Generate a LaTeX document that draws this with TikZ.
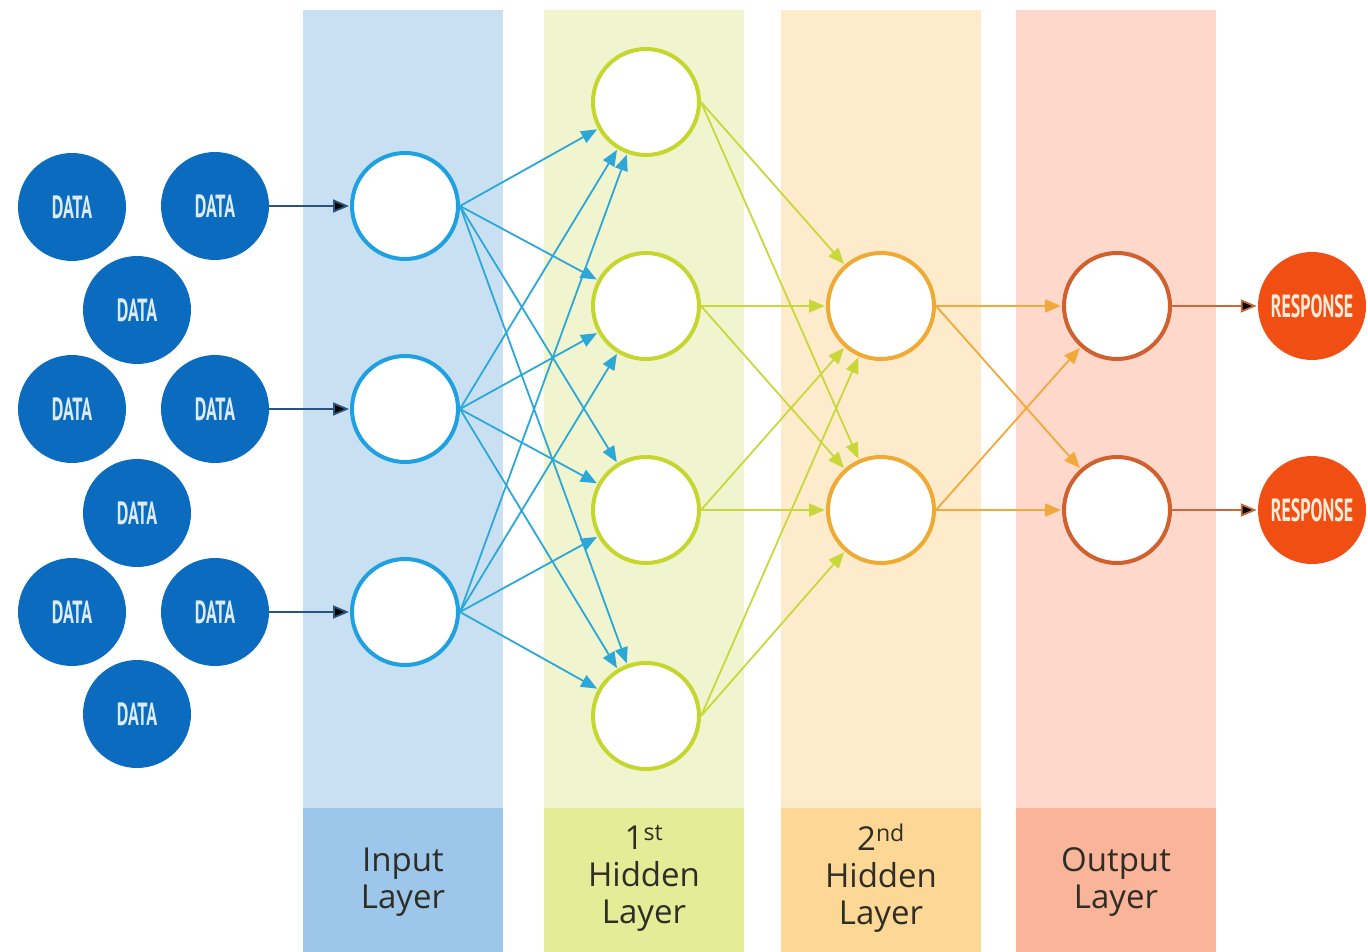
\documentclass[tikz,border=0pt]{standalone}
\usepackage{fontspec}
\setmainfont{Open Sans}
\newfontfamily\tagfont{PT Sans}
\usetikzlibrary{arrows.meta}

\definecolor{dataBlue}{HTML}{0B6BBF}
\definecolor{dataText}{HTML}{DCEBFA}
\definecolor{respRed}{HTML}{F04E12}
\definecolor{respText}{HTML}{FFEBD7}
\definecolor{bandIn}{HTML}{C9E0F2}
\definecolor{tabIn}{HTML}{9CC6EA}
\definecolor{bandHa}{HTML}{F1F5CF}
\definecolor{tabHa}{HTML}{E4EC98}
\definecolor{bandHb}{HTML}{FDEBCB}
\definecolor{tabHb}{HTML}{FCD796}
\definecolor{bandOut}{HTML}{FDD8CB}
\definecolor{tabOut}{HTML}{F9B49A}
\definecolor{ringIn}{HTML}{1FA0E0}
\definecolor{ringHa}{HTML}{C5D62E}
\definecolor{ringHb}{HTML}{EEAA33}
\definecolor{ringOut}{HTML}{D0602E}
\definecolor{linkData}{HTML}{27557F}
\definecolor{linkIn}{HTML}{2BA8D8}
\definecolor{linkHa}{HTML}{C8D83A}
\definecolor{linkHb}{HTML}{F2A93B}
\definecolor{linkOut}{HTML}{C8683C}
\definecolor{tabText}{HTML}{2E2E24}

\newcommand\tagtext[1]{\scalebox{0.56}[1]{#1}}

\tikzset{
  neuron/.style={circle,draw,fill=white,line width=4pt,minimum size=106pt,inner sep=0pt},
  datum/.style={circle,fill=dataBlue,minimum size=108pt,inner sep=0pt,text=dataText,
    font=\tagfont\bfseries\fontsize{32}{32}\selectfont},
  reply/.style={datum,fill=respRed,text=respText},
  tab/.style={align=center,text=tabText,font=\fontsize{33}{37}\selectfont},
  link/.style={->,line width=1.8pt}
}

\begin{document}
\begin{tikzpicture}[x=1pt,y=-1pt,>={Triangle[length=16pt,width=13pt]},shorten >=1pt]
  \useasboundingbox (0,0) rectangle (1368,952);

  % layer bands and their name tabs
  \fill[bandIn]  (303,10) rectangle (503,952);
  \fill[tabIn]   (303,808) rectangle (503,952);
  \fill[bandHa]  (544,10) rectangle (744,952);
  \fill[tabHa]   (544,808) rectangle (744,952);
  \fill[bandHb]  (781,10) rectangle (981,952);
  \fill[tabHb]   (781,808) rectangle (981,952);
  \fill[bandOut] (1016,10) rectangle (1216,952);
  \fill[tabOut]  (1016,808) rectangle (1216,952);

  \node[tab] (lblIn)  at (403,882)  {Input\\Layer};
  \node[tab] (lblHa)  at (644,878)  {1\textsuperscript{st}\\Hidden\\Layer};
  \node[tab] (lblHb)  at (881,878)  {2\textsuperscript{nd}\\Hidden\\Layer};
  \node[tab] (lblOut) at (1116,882) {Output\\Layer};

  % data sources
  \node[datum] (d1) at (72,207)  {\tagtext{DATA}};
  \node[datum] (d2) at (215,206) {\tagtext{DATA}};
  \node[datum] (d3) at (137,310) {\tagtext{DATA}};
  \node[datum] (d4) at (72,409)  {\tagtext{DATA}};
  \node[datum] (d5) at (215,409) {\tagtext{DATA}};
  \node[datum] (d6) at (137,513) {\tagtext{DATA}};
  \node[datum] (d7) at (72,612)  {\tagtext{DATA}};
  \node[datum] (d8) at (215,612) {\tagtext{DATA}};
  \node[datum] (d9) at (137,714) {\tagtext{DATA}};

  % network
  \node[neuron,draw=ringIn] (in1) at (405,206) {};
  \node[neuron,draw=ringIn] (in2) at (405,409) {};
  \node[neuron,draw=ringIn] (in3) at (405,612) {};

  \node[neuron,draw=ringHa] (ha1) at (646,102) {};
  \node[neuron,draw=ringHa] (ha2) at (646,306) {};
  \node[neuron,draw=ringHa] (ha3) at (646,510) {};
  \node[neuron,draw=ringHa] (ha4) at (646,716) {};

  \node[neuron,draw=ringHb] (hb1) at (881,306) {};
  \node[neuron,draw=ringHb] (hb2) at (881,510) {};

  \node[neuron,draw=ringOut] (o1) at (1117,306) {};
  \node[neuron,draw=ringOut] (o2) at (1117,510) {};

  \node[reply] (r1) at (1312,306) {\tagtext{RESPONSE}};
  \node[reply] (r2) at (1312,510) {\tagtext{RESPONSE}};

  % connections
  \path[link,draw=linkData]
    (d2) edge (in1)
    (d5) edge (in2)
    (d8) edge (in3);

  \foreach \i in {1,2,3}
    \foreach \j in {1,...,4}
      \draw[link,linkIn] (in\i.east) -- (ha\j);

  \foreach \i in {1,...,4}
    \foreach \j in {1,2}
      \draw[link,linkHa] (ha\i.east) -- (hb\j);

  \foreach \i in {1,2}
    \foreach \j in {1,2}
      \draw[link,linkHb] (hb\i.east) -- (o\j);

  \path[link,draw=linkOut]
    (o1) edge (r1)
    (o2) edge (r2);
\end{tikzpicture}
\end{document}
